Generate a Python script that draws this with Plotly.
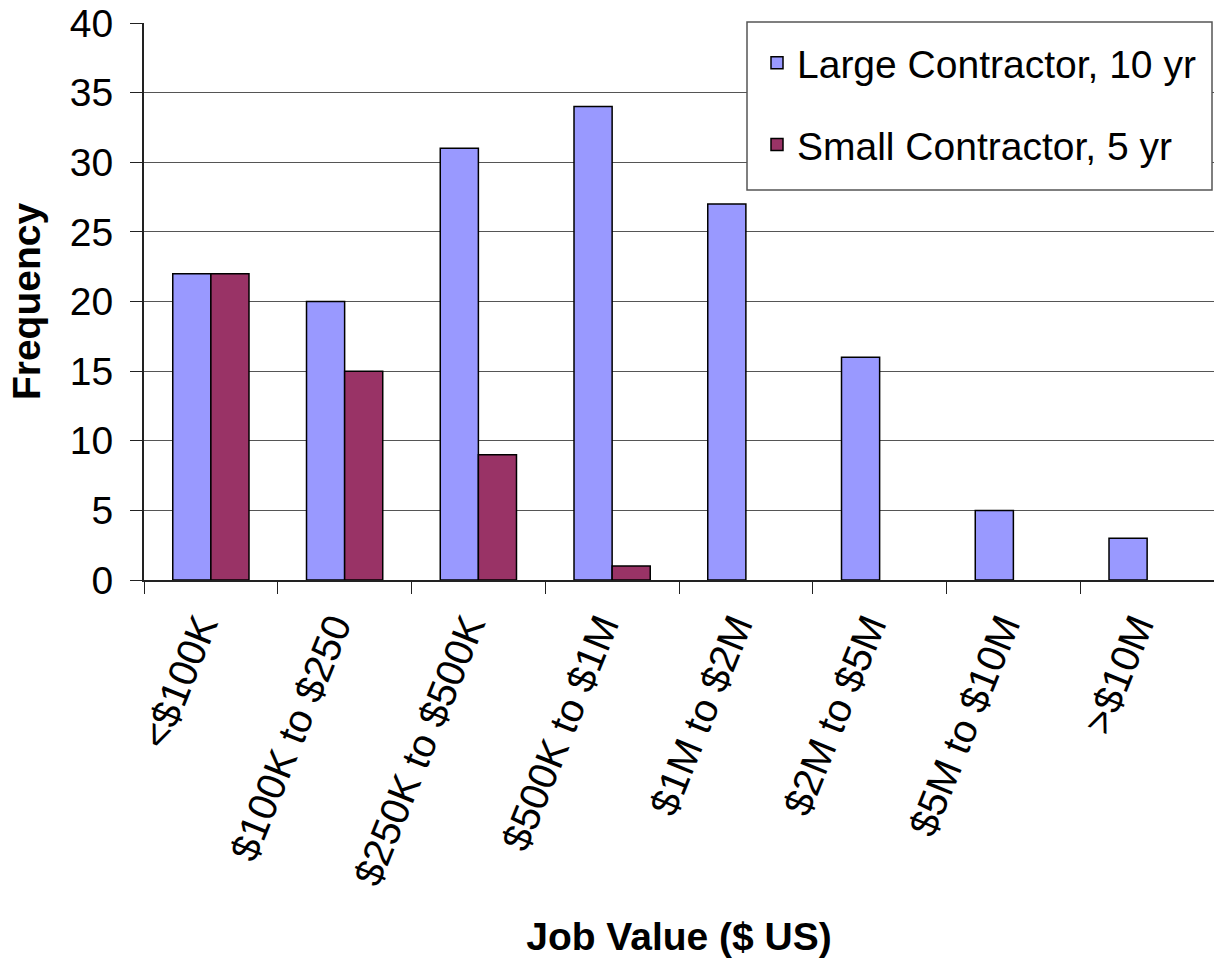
import plotly.graph_objects as go

categories = ["<$100K", "$100K to $250", "$250K to $500K", "$500K to $1M",
              "$1M to $2M", "$2M to $5M", "$5M to $10M", ">$10M"]
large_10yr = [22, 20, 31, 34, 27, 16, 5, 3]
small_5yr = [22, 15, 9, 1, 0, 0, 0, 0]

FONT = "Arial, Liberation Sans, sans-serif"

W, H = 1214, 960
L, R, T, B = 144, 0, 23, 380
PW, PH = W - L - R, H - T - B


def px_x(x):
    return (x - L) / PW


def px_y(y):
    return (H - B - y) / PH


def outline_widths(vals):
    return [1.5 if v > 0 else 0 for v in vals]


fig = go.Figure()
fig.add_trace(go.Bar(x=categories, y=large_10yr, name="Large Contractor, 10 yr",
                     marker=dict(color="#9999FF",
                                 line=dict(color="black", width=outline_widths(large_10yr))),
                     legendgroup="a"))
fig.add_trace(go.Bar(x=categories, y=small_5yr, name="Small Contractor, 5 yr",
                     marker=dict(color="#993366",
                                 line=dict(color="black", width=outline_widths(small_5yr))),
                     legendgroup="b"))

# legend frame
fig.add_shape(type="rect", xref="paper", yref="paper",
              x0=px_x(747), x1=px_x(1212), y0=px_y(190), y1=px_y(22),
              fillcolor="white", line=dict(color="#555555", width=1.5), layer="above")

fig.update_layout(
    width=W, height=H,
    margin=dict(l=L, r=R, t=T, b=B, autoexpand=False),
    paper_bgcolor="white", plot_bgcolor="white",
    barmode="group", bargap=0.43, bargroupgap=0,
    font=dict(family=FONT, size=39, color="black"),
    showlegend=True,
    legend=dict(x=px_x(757), y=px_y(31), xanchor="left", yanchor="top",
                borderwidth=0, bgcolor="rgba(0,0,0,0)",
                font=dict(size=39), tracegroupgap=28, traceorder="grouped"),
    xaxis=dict(
        showline=True, linecolor="#222222", linewidth=2,
        ticks="outside", tickson="boundaries", ticklen=12, tickcolor="#222222",
        tickangle=-68, tickfont=dict(size=40), automargin=False,
        ticklabelshift=-11, ticklabelstandoff=5,
        title=dict(text="<b>Job Value ($ US)</b>", font=dict(size=39), standoff=32),
    ),
    yaxis=dict(
        range=[0, 40], dtick=5,
        showline=True, linecolor="#222222", linewidth=2,
        ticks="outside", ticklen=12, tickcolor="#222222",
        showgrid=True, gridcolor="#555555", gridwidth=1,
        tickfont=dict(size=39), automargin=False, ticklabelstandoff=9,
        title=dict(text="<b>Frequency</b>", font=dict(size=39), standoff=17),
    ),
)

fig.write_html("out.html", config={"displayModeBar": False},
               post_script="document.body.style.margin='0';document.body.style.overflow='hidden';")
